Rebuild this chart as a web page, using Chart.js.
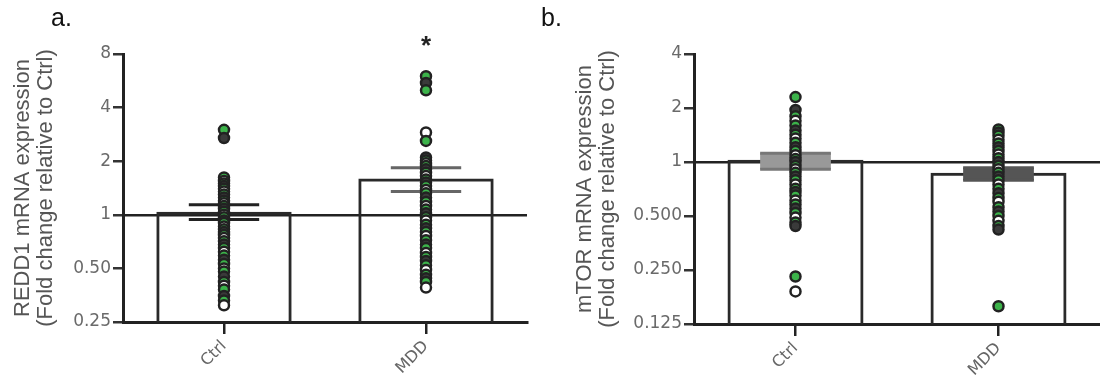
<!DOCTYPE html>
<html>
<head>
<meta charset="utf-8">
<script src="https://cdn.jsdelivr.net/npm/chart.js@4.4.1/dist/chart.umd.min.js"></script>
<style>
  body { margin: 0; background: #fff; }
  #wrap { position: relative; width: 1100px; height: 384px; overflow: hidden; font-family: "Liberation Sans", Arial, sans-serif; }
  canvas { position: absolute; top: 0; }
  .panel { position: absolute; top: 3px; font-size: 25px; color: #111; }
</style>
</head>
<body>
<div id="wrap">
  <canvas id="chartA" width="550" height="384" style="left:0"></canvas>
  <canvas id="chartB" width="550" height="384" style="left:550px"></canvas>
  <div class="panel" style="left:51px">a.</div>
  <div class="panel" style="left:541px">b.</div>
</div>
<script>
const groups = ['Ctrl', 'MDD'];

// panel a - REDD1
const redd1Mean = [1.04, 1.6];
const redd1Lo = [0.94, 1.35];
const redd1Hi = [1.14, 1.84];
const redd1Ctrl = [3.0, 2.7, 1.62, 1.55, 1.5, 1.45, 1.4, 1.35, 1.3, 1.25, 1.2, 1.16, 1.12, 1.08, 1.04, 1.0,
                   0.97, 0.93, 0.9, 0.86, 0.83, 0.8, 0.77, 0.74, 0.71, 0.68, 0.65, 0.62, 0.59, 0.56, 0.53,
                   0.5, 0.48, 0.45, 0.42, 0.4, 0.38, 0.35, 0.33, 0.31];
const redd1Mdd = [6.0, 5.5, 5.0, 2.9, 2.6, 2.1, 2.02, 1.95, 1.88, 1.8, 1.72, 1.65, 1.58, 1.52, 1.45, 1.38,
                  1.32, 1.25, 1.18, 1.12, 1.07, 1.02, 0.97, 0.93, 0.88, 0.84, 0.8, 0.76, 0.72, 0.68, 0.65,
                  0.61, 0.58, 0.55, 0.52, 0.49, 0.46, 0.44, 0.42, 0.39];
const redd1Ticks = [0.25, 0.5, 1, 2, 4, 8];
const redd1TickLabels = ['0.25', '0.50', '1', '2', '4', '8'];
const redd1Sig = ['', '*'];

// panel b - mTOR
const mtorMean = [1.03, 0.87];
const mtorLo = [0.91, 0.79];
const mtorHi = [1.12, 0.93];
const mtorCtrl = [2.3, 1.95, 1.8, 1.7, 1.6, 1.5, 1.42, 1.35, 1.28, 1.21, 1.15, 1.09, 1.04, 1.0, 0.95, 0.91,
                  0.87, 0.83, 0.79, 0.75, 0.71, 0.68, 0.65, 0.61, 0.58, 0.55, 0.52, 0.49, 0.46, 0.44,
                  0.23, 0.19];
const mtorMdd = [1.52, 1.46, 1.4, 1.33, 1.27, 1.21, 1.15, 1.1, 1.05, 1.0, 0.95, 0.91, 0.87, 0.83, 0.79,
                 0.75, 0.71, 0.67, 0.63, 0.6, 0.56, 0.53, 0.5, 0.47, 0.44, 0.42, 0.157];
const mtorTicks = [0.125, 0.25, 0.5, 1, 2, 4];
const mtorTickLabels = ['0.125', '0.250', '0.500', '1', '2', '4'];
const mtorSig = ['', ''];

const FONT = '"Liberation Sans", Arial, sans-serif';
const TICKFONT = '"DejaVu Sans", sans-serif';
const INK = '#222';
const GREEN = '#3cb34a';

// error bars + significance marks, drawn through the chart scales
const errorBars = {
  id: 'errorBars',
  afterDatasetDraw(chart, args, opts) {
    if (args.index !== 0) return;
    const { ctx } = chart;
    const y = chart.scales.y;
    const bars = args.meta.data;
    ctx.save();
    opts.lo.forEach((lo, i) => {
      const cx = bars[i].x;
      const half = bars[i].width * opts.capRatio;
      const yLo = y.getPixelForValue(lo);
      const yHi = y.getPixelForValue(opts.hi[i]);
      ctx.strokeStyle = opts.colors[i];
      ctx.lineWidth = 3;
      if (opts.box) {
        ctx.fillStyle = opts.fills[i];
        ctx.fillRect(cx - half, yHi, half * 2, yLo - yHi);
      } else {
        ctx.beginPath();
        ctx.moveTo(cx, yHi); ctx.lineTo(cx, yLo);
        ctx.stroke();
      }
      ctx.beginPath();
      ctx.moveTo(cx - half, yHi); ctx.lineTo(cx + half, yHi);
      ctx.moveTo(cx - half, yLo); ctx.lineTo(cx + half, yLo);
      ctx.stroke();
    });
    ctx.restore();
  },
  afterDraw(chart, args, opts) {
    const { ctx } = chart;
    const x = chart.scales.x;
    ctx.save();
    ctx.fillStyle = INK;
    ctx.font = 'bold 26px ' + FONT;
    ctx.textAlign = 'center';
    ctx.textBaseline = 'middle';
    opts.sig.forEach((s, i) => {
      if (s) ctx.fillText(s, x.getPixelForValue(i), chart.chartArea.top - 7);
    });
    ctx.restore();
  }
};

function dotFill(c) {
  const k = c.dataIndex % 4;
  if (k === 1) return '#3a3a3a';
  if (k === 3) return '#fff';
  return GREEN;
}

function makeChart(id, d) {
  const dots = [
    ...d.ctrl.map(v => ({ x: groups[0], y: v })),
    ...d.mdd.map(v => ({ x: groups[1], y: v }))
  ];
  return new Chart(document.getElementById(id), {
    type: 'bar',
    data: {
      labels: groups,
      datasets: [
        {
          data: d.mean,
          order: 2,
          backgroundColor: 'rgba(255,255,255,0)',
          borderColor: '#2a2a2a',
          borderWidth: 3,
          barPercentage: 0.67,
          categoryPercentage: 1
        },
        {
          type: 'line',
          data: dots,
          order: 1,
          showLine: false,
          pointRadius: 5,
          pointBorderWidth: 2.5,
          pointBorderColor: INK,
          pointBackgroundColor: dotFill
        }
      ]
    },
    options: {
      responsive: false,
      animation: false,
      layout: { autoPadding: false, padding: { top: 54, right: d.padRight, bottom: 0, left: 0 } },
      plugins: {
        legend: { display: false },
        tooltip: { enabled: false },
        errorBars: d.err
      },
      scales: {
        x: {
          type: 'category',
          offset: true,
          afterFit: s => { s.height = d.xHeight; s.paddingLeft = 0; s.paddingRight = 0; },
          grid: { offset: false, drawOnChartArea: false, tickLength: 12, tickColor: INK, lineWidth: 2.5 },
          border: { color: INK, width: 3 },
          ticks: { maxRotation: 45, minRotation: 45, padding: 3, color: '#666', font: { size: 16, family: TICKFONT } }
        },
        y: {
          type: 'logarithmic',
          min: d.ticks[0],
          max: d.ticks[d.ticks.length - 1],
          afterFit: s => { s.width = d.yWidth; },
          afterBuildTicks: s => { s.ticks = d.ticks.map(v => ({ value: v })); },
          grid: {
            color: c => (c.tick && c.tick.value === 1 ? INK : 'rgba(0,0,0,0)'),
            tickColor: '#333',
            tickLength: 10,
            lineWidth: 2.5
          },
          border: { color: INK, width: 3 },
          ticks: {
            autoSkip: false,
            padding: 2,
            color: '#6a6a6a',
            font: { size: 17, family: TICKFONT },
            callback: v => d.tickLabels[d.ticks.indexOf(v)]
          },
          title: {
            display: true,
            text: d.title,
            color: '#555',
            font: { size: 22, family: FONT, lineHeight: 1.05 },
            padding: { top: d.titlePad, bottom: 0 }
          }
        }
      }
    },
    plugins: [errorBars]
  });
}

makeChart('chartA', {
  mean: redd1Mean, ctrl: redd1Ctrl, mdd: redd1Mdd,
  ticks: redd1Ticks, tickLabels: redd1TickLabels,
  title: ['REDD1 mRNA expression', '(Fold change relative to Ctrl)'],
  yWidth: 123, xHeight: 62, padRight: 23, titlePad: 11,
  err: { lo: redd1Lo, hi: redd1Hi, sig: redd1Sig, capRatio: 0.26, box: false,
         colors: ['#222', '#666'], fills: ['#fff', '#fff'] }
});

makeChart('chartB', {
  mean: mtorMean, ctrl: mtorCtrl, mdd: mtorMdd,
  ticks: mtorTicks, tickLabels: mtorTickLabels,
  title: ['mTOR mRNA expression', '(Fold change relative to Ctrl)'],
  yWidth: 144, xHeight: 60, padRight: 0, titlePad: 23,
  err: { lo: mtorLo, hi: mtorHi, sig: mtorSig, capRatio: 0.26, box: true,
         colors: ['#777', '#555'], fills: ['#999', '#555'] }
});
</script>
</body>
</html>
